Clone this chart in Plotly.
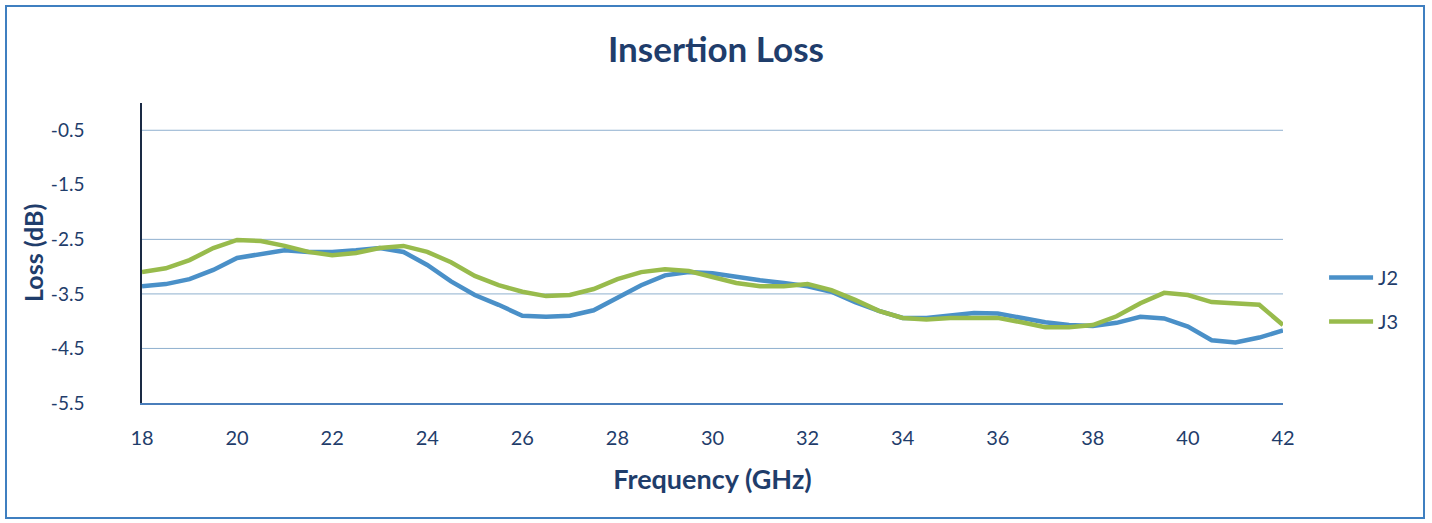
import plotly.graph_objects as go

freq = [18, 18.5, 19, 19.5, 20, 20.5, 21, 21.5, 22, 22.5, 23, 23.5, 24, 24.5, 25, 25.5,
        26, 26.5, 27, 27.5, 28, 28.5, 29, 29.5, 30, 30.5, 31, 31.5, 32, 32.5, 33, 33.5,
        34, 34.5, 35, 35.5, 36, 36.5, 37, 37.5, 38, 38.5, 39, 39.5, 40, 40.5, 41, 41.5, 42]

j2 = [-3.36, -3.32, -3.23, -3.06, -2.84, -2.77, -2.70, -2.73, -2.73, -2.70, -2.66, -2.73,
      -2.97, -3.27, -3.52, -3.70, -3.90, -3.92, -3.90, -3.80, -3.56, -3.34, -3.16, -3.10,
      -3.12, -3.19, -3.25, -3.30, -3.36, -3.46, -3.65, -3.81, -3.94, -3.94, -3.90, -3.85,
      -3.86, -3.94, -4.02, -4.07, -4.09, -4.03, -3.92, -3.95, -4.10, -4.35, -4.39, -4.30, -4.17]

j3 = [-3.10, -3.03, -2.88, -2.66, -2.51, -2.53, -2.62, -2.73, -2.79, -2.75, -2.66, -2.62,
      -2.73, -2.92, -3.17, -3.34, -3.46, -3.54, -3.52, -3.41, -3.23, -3.10, -3.05, -3.08,
      -3.19, -3.30, -3.36, -3.36, -3.32, -3.43, -3.61, -3.81, -3.94, -3.97, -3.94, -3.94,
      -3.94, -4.02, -4.11, -4.11, -4.07, -3.91, -3.67, -3.48, -3.52, -3.65, -3.67, -3.70, -4.07]

x_ticks = [18, 20, 22, 24, 26, 28, 30, 32, 34, 36, 38, 40, 42]
y_ticks = [-0.5, -1.5, -2.5, -3.5, -4.5, -5.5]
grid_values = [-0.5, -2.5, -3.5, -4.5]   # -1.5 gridline is not visible in the original

NAVY = "#1f3d6b"
FONT = "Lato"

fig = go.Figure()
fig.add_trace(go.Scatter(x=freq, y=j2, name="J2", mode="lines", legendgroup="a",
                         line=dict(color="#4a90c8", width=4.5)))
fig.add_trace(go.Scatter(x=freq, y=j3, name="J3", mode="lines", legendgroup="b",
                         line=dict(color="#98bb4c", width=4.5)))

for g in grid_values:
    fig.add_hline(y=g, line=dict(color="#8fb0cf", width=1), layer="below")

fig.update_layout(
    width=1432, height=523,
    margin=dict(l=142, r=149, t=103, b=120),
    paper_bgcolor="white", plot_bgcolor="white",
    font=dict(family=FONT, color=NAVY, size=18),
    title=dict(text="<b>Insertion Loss</b>", x=0.5, xanchor="center", y=0.905, yanchor="middle",
               font=dict(family=FONT, size=35, color=NAVY)),
    legend=dict(x=1.036, y=0.345, xanchor="left", yanchor="middle",
                font=dict(family=FONT, size=20, color=NAVY),
                tracegroupgap=15, itemwidth=44, bgcolor="rgba(0,0,0,0)"),
    showlegend=True,
)

fig.update_xaxes(range=[18, 42], tickvals=x_ticks, ticktext=[str(v) for v in x_ticks],
                 showgrid=False, zeroline=False, showline=True, linecolor="#4a7ebb", linewidth=1.5,
                 ticks="", ticklabelstandoff=16, tickfont=dict(size=20),
                 title=dict(text="<b>Frequency (GHz)</b>", standoff=22,
                            font=dict(family=FONT, size=27, color=NAVY)))
fig.update_yaxes(range=[-5.5, 0], tickvals=y_ticks, ticktext=[str(v) for v in y_ticks],
                 showgrid=False, zeroline=False,
                 showline=True, linecolor="#1a2a44", linewidth=1.5,
                 ticks="", ticklabelstandoff=52, tickfont=dict(size=19))

# y-axis title placed like the original (close to the tick labels)
fig.add_annotation(text="<b>Loss (dB)</b>", xref="paper", yref="paper",
                   x=(33 - 142) / 1141, y=(403 - 253) / 300, textangle=-90,
                   showarrow=False, xanchor="center", yanchor="middle",
                   font=dict(family=FONT, size=25, color=NAVY))

# outer chart-area border
fig.add_shape(type="rect", xref="paper", yref="paper",
              x0=(6 - 142) / 1141, x1=(1424 - 142) / 1141,
              y0=-(518 - 403) / 300, y1=1 + (103 - 6) / 300,
              line=dict(color="#3f7fc0", width=2), fillcolor="rgba(0,0,0,0)", layer="below")

fig.write_html("out.html", config={"displayModeBar": False},
               post_script="document.body.style.margin='0';")
